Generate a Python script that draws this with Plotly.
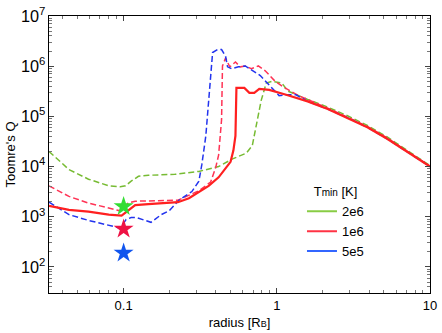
import plotly.graph_objects as go

# --- data ---
r_2e6 = [0.0326, 0.044, 0.059, 0.080, 0.095, 0.103, 0.112, 0.125, 0.145, 0.216, 0.310, 0.417,
         0.514, 0.633, 0.692, 0.745, 0.791, 0.853, 0.933, 1.08, 1.18, 1.59, 2.15, 2.89, 3.90,
         5.25, 7.08, 10.0]
q_2e6 = [2.0e4, 8.7e3, 5.6e3, 4.13e3, 3.95e3, 4.13e3, 5.1e3, 6.4e3, 6.7e3, 7.0e3, 8.0e3, 1.0e4,
         1.42e4, 1.85e4, 2.62e4, 8.6e4, 2.08e5, 4.6e5, 5.0e5, 4.6e5, 3.2e5, 2.17e5, 1.53e5,
         1.03e5, 6.6e4, 3.9e4, 2.1e4, 1.04e4]

r_1e6_dash = [0.0326, 0.044, 0.059, 0.080, 0.095, 0.107, 0.119, 0.226, 0.310, 0.370, 0.399,
              0.417, 0.436, 0.442, 0.463, 0.493, 0.537, 0.578, 0.623, 0.682, 0.757, 0.840,
              0.975, 1.13, 1.39, 2.15, 2.89, 3.90, 5.25, 7.08, 10.0]
q_1e6_dash = [4.13e3, 2.54e3, 1.87e3, 1.50e3, 1.31e3, 1.87e3, 2.04e3, 2.13e3, 3.3e3, 4.9e3,
              9.5e3, 1.69e4, 8.6e4, 1.01e6, 1.45e6, 9.7e5, 1.21e6, 9.7e5, 1.01e6, 8.9e5,
              1.01e6, 8.1e5, 5.0e5, 3.68e5, 2.59e5, 1.46e5, 9.8e4, 6.3e4, 3.73e4, 2.06e4, 1.02e4]

r_5e5 = [0.0326, 0.044, 0.059, 0.080, 0.095, 0.104, 0.112, 0.121, 0.138, 0.151, 0.176, 0.198,
         0.230, 0.279, 0.310, 0.324, 0.344, 0.370, 0.381, 0.410, 0.436, 0.463, 0.477, 0.506,
         0.562, 0.623, 0.692, 0.780, 0.892, 1.035, 1.15, 1.33, 1.59, 2.15, 2.89, 3.90, 5.25,
         7.08, 10.0]
q_5e5 = [1.95e3, 1.10e3, 845, 679, 595, 883, 965, 965, 845, 774, 1.10e3, 1.31e3,
         2.13e3, 3.17e3, 5.1e3, 1.09e4, 4.07e4, 7.8e5, 1.87e6, 2.14e6, 2.14e6, 1.57e6, 9.7e5,
         8.9e5, 9.7e5, 1.01e6, 8.1e5, 6.5e5, 4.2e5, 2.59e5, 2.70e5, 2.70e5, 1.99e5, 1.40e5,
         9.4e4, 6.05e4, 3.57e4, 2.01e4, 9.96e3]

r_1e6 = [0.0326, 0.044, 0.059, 0.080, 0.097, 0.107, 0.119, 0.145, 0.226, 0.267, 0.359, 0.417,
         0.469, 0.499, 0.521, 0.537, 0.545, 0.614, 0.662, 0.713, 0.768, 0.892, 1.15, 1.59,
         2.15, 2.89, 3.90, 5.25, 7.08, 10.0]
q_1e6 = [1.64e3, 1.37e3, 1.26e3, 1.10e3, 1.05e3, 1.31e3, 1.71e3, 1.79e3, 1.95e3, 2.33e3,
         4.13e3, 6.1e3, 9.5e3, 1.24e4, 2.1e4, 4.07e4, 3.68e5, 3.68e5, 2.95e5, 2.95e5, 3.52e5,
         3.37e5, 2.70e5, 1.99e5, 1.40e5, 9.4e4, 6.05e4, 3.57e4, 2.01e4, 9.96e3]

star_r = [0.1, 0.1, 0.1]
star_q = [1.6e3, 570, 190]
star_colors = ["#33dd33", "#ee1144", "#1155ee"]

legend_names = ["2e6", "1e6", "5e5"]
legend_colors = ["#88cc44", "#ff3344", "#3366ff"]

fig = go.Figure()
dash = "6px,3px"
fig.add_trace(go.Scatter(x=r_2e6, y=q_2e6, mode="lines", showlegend=False,
                         line=dict(color="#77bb33", width=1.5, dash=dash)))
fig.add_trace(go.Scatter(x=r_1e6_dash, y=q_1e6_dash, mode="lines", showlegend=False,
                         line=dict(color="#ff3355", width=1.5, dash=dash)))
fig.add_trace(go.Scatter(x=r_5e5, y=q_5e5, mode="lines", showlegend=False,
                         line=dict(color="#2233ee", width=1.5, dash=dash)))
fig.add_trace(go.Scatter(x=r_1e6, y=q_1e6, mode="lines", showlegend=False,
                         line=dict(color="#ff2020", width=2.2)))
fig.add_trace(go.Scatter(x=star_r, y=star_q, mode="markers", showlegend=False,
                         marker=dict(symbol="star", size=15, color=star_colors, line=dict(width=0))))
for name, col in zip(legend_names, legend_colors):
    fig.add_trace(go.Scatter(x=[None], y=[None], mode="lines", name=name,
                             line=dict(color=col, width=2)))

font = "Liberation Sans, Arial, sans-serif"
axis = dict(type="log", showline=True, linecolor="black", linewidth=1, mirror="ticks",
            ticks="inside", ticklen=5, tickcolor="#444", showgrid=False, zeroline=False,
            minor=dict(ticks="inside", ticklen=3, tickcolor="#777", dtick="D1"),
            tickfont=dict(size=13, color="black"), dtick=1, ticklabeloverflow="allow")
fig.update_xaxes(**axis, range=[-1.487, 1],
                 title=dict(text="radius [R<span style='font-size:9px'>B</span>]",
                            font=dict(size=13, color="black"), standoff=6))
fig.update_yaxes(**axis, range=[1.48, 7.0001], exponentformat="power",
                 title=dict(text="Toomre's Q", font=dict(size=13, color="black"), standoff=2))

fig.update_layout(
    width=442, height=333,
    margin=dict(l=49, r=9, t=5, b=39),
    plot_bgcolor="white", paper_bgcolor="white",
    font=dict(family=font, size=13, color="black"),
    legend=dict(x=0.664, y=0.41, xanchor="left", yanchor="top", bgcolor="rgba(0,0,0,0)",
                title=dict(text="T<span style='font-size:10px'>min</span> [K]",
                           font=dict(size=13), side="top center"),
                font=dict(size=13), itemwidth=30, tracegroupgap=0),
)

fig.write_html("out.html", config={"displayModeBar": False},
               post_script="document.body.style.margin='0';")
